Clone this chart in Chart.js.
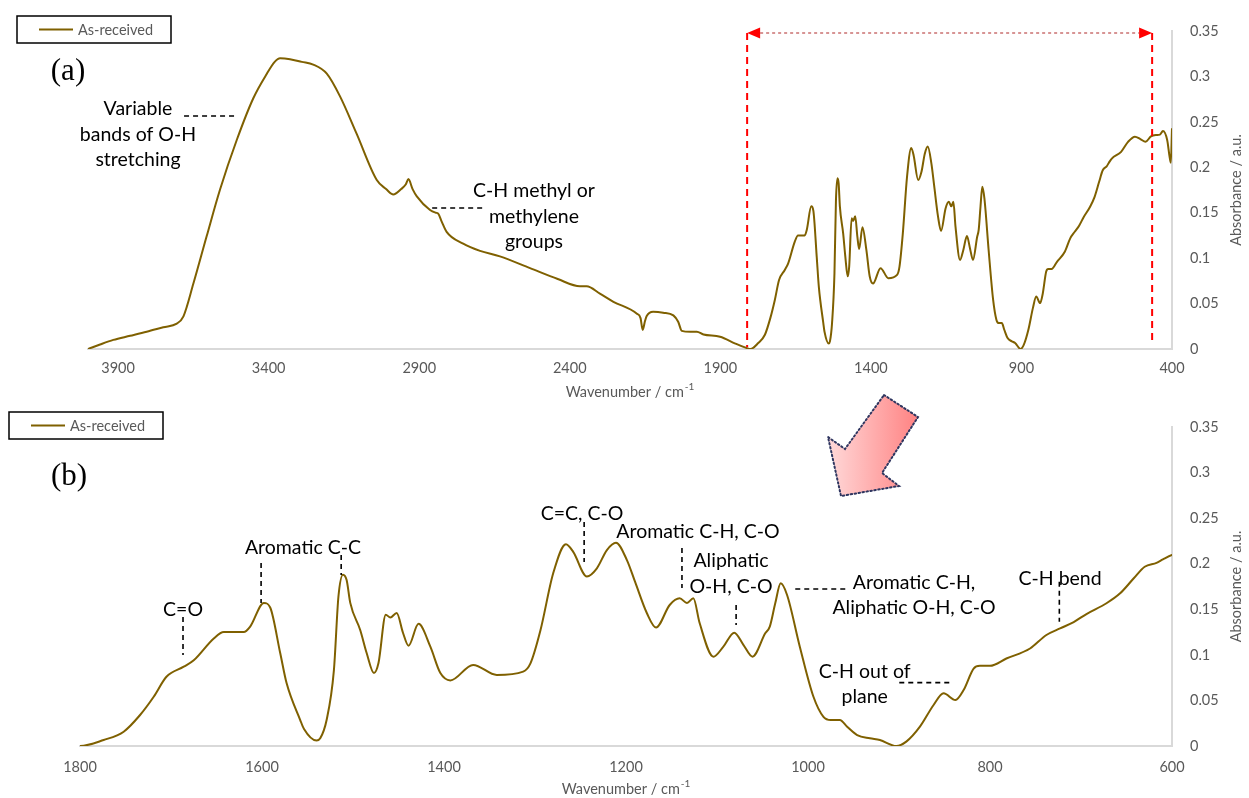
<!DOCTYPE html>
<html>
<head>
<meta charset="utf-8">
<title>FTIR spectrum – As-received</title>
<script src="https://cdn.jsdelivr.net/npm/chart.js@4.4.1/dist/chart.umd.min.js"></script>
<style>
  html, body { margin: 0; padding: 0; background: #ffffff; }
  body { width: 1249px; height: 798px; position: relative; overflow: hidden; }
  #specA { position: absolute; left: 0; top: 0; }
  #specB { position: absolute; left: 0; top: 380px; }
</style>
</head>
<body>
<canvas id="specA" width="1249" height="400"></canvas>
<canvas id="specB" width="1249" height="418"></canvas>
<script>
// ---- Spectrum (wavenumber in cm-1, absorbance in a.u.) ----
const wavenumber = [
  4000, 3960, 3916, 3860, 3805, 3750, 3705, 3683, 3650, 3606,
  3562, 3506, 3451, 3406, 3380, 3362, 3329, 3290, 3252, 3207,
  3163, 3108, 3041, 3010, 2986, 2960, 2945, 2936, 2922, 2908,
  2864, 2845, 2837, 2825, 2809, 2754, 2698, 2632, 2532, 2440,
  2366, 2344, 2300, 2255, 2178, 2165, 2158, 2150, 2145, 2123,
  2090, 2056, 2040, 2028, 2000, 1978, 1956, 1901, 1850, 1812,
  1800, 1774, 1752, 1734, 1719, 1705, 1686, 1675, 1653, 1642,
  1620, 1613, 1598, 1591, 1580, 1573, 1558, 1554, 1540, 1536,
  1529, 1521, 1516, 1511, 1507, 1503, 1492, 1485, 1477, 1472,
  1464, 1459, 1452, 1445, 1439, 1428, 1415, 1404, 1393, 1368,
  1342, 1313, 1305, 1294, 1280, 1266, 1258, 1243, 1232, 1221,
  1211, 1199, 1190, 1177, 1167, 1152, 1141, 1133, 1126, 1119,
  1104, 1093, 1081, 1071, 1061, 1047, 1042, 1036, 1030, 1023,
  1009, 994, 983, 975, 965, 957, 946, 932, 921, 903,
  892, 877, 862, 851, 838, 829, 818, 811, 800, 782,
  756, 738, 723, 708, 694, 672, 657, 642, 630, 617,
  610, 600, 569, 546, 523, 505, 488, 470, 453, 440,
  430, 416, 408, 404, 400
];
const absorbance = [
  0.000, 0.005, 0.010, 0.0145, 0.019, 0.024, 0.028, 0.036, 0.072, 0.124,
  0.175, 0.230, 0.276, 0.303, 0.316, 0.320, 0.319, 0.316, 0.313, 0.303,
  0.278, 0.237, 0.186, 0.176, 0.170, 0.176, 0.181, 0.187, 0.176, 0.168,
  0.153, 0.150, 0.149, 0.140, 0.129, 0.116, 0.108, 0.102, 0.089, 0.077,
  0.069, 0.069, 0.061, 0.052, 0.039, 0.034, 0.021, 0.031, 0.036, 0.041,
  0.040, 0.037, 0.030, 0.020, 0.019, 0.019, 0.016, 0.0135, 0.006, 0.001,
  0.000, 0.0066, 0.0157, 0.034, 0.054, 0.076, 0.087, 0.094, 0.118, 0.125,
  0.125, 0.131, 0.157, 0.152, 0.102, 0.069, 0.0285, 0.019, 0.006, 0.0084,
  0.0285, 0.083, 0.164, 0.188, 0.182, 0.157, 0.127, 0.102, 0.080, 0.091,
  0.144, 0.141, 0.146, 0.124, 0.110, 0.134, 0.109, 0.080, 0.072, 0.089,
  0.078, 0.0816, 0.0907, 0.127, 0.1895, 0.2213, 0.213, 0.186, 0.195, 0.215,
  0.223, 0.204, 0.180, 0.1456, 0.130, 0.1547, 0.162, 0.157, 0.162, 0.1346,
  0.098, 0.109, 0.1243, 0.111, 0.098, 0.1236, 0.131, 0.1566, 0.1785, 0.1657,
  0.109, 0.054, 0.032, 0.0285, 0.0285, 0.0212, 0.012, 0.0084, 0.0066, 0.000,
  0.0048, 0.0212, 0.045, 0.0578, 0.0505, 0.0614, 0.085, 0.088, 0.088, 0.096,
  0.107, 0.1218, 0.129, 0.136, 0.1448, 0.1566, 0.1675, 0.184, 0.1967, 0.201,
  0.2048, 0.2096, 0.217, 0.228, 0.2337, 0.231, 0.228, 0.234, 0.2355, 0.236,
  0.240, 0.230, 0.2116, 0.205, 0.243
];
const seriesLabel = 'As-received';

// ---- Axis ranges and ticks ----
const xRangeFull = [400, 4000];
const xRangeZoom = [600, 1800];
const xTicksFull = [3900, 3400, 2900, 2400, 1900, 1400, 900, 400];
const xTicksZoom = [1800, 1600, 1400, 1200, 1000, 800, 600];
const yTicks = [0, 0.05, 0.1, 0.15, 0.2, 0.25, 0.3, 0.35];
const yTickLabels = ['0', '0.05', '0.1', '0.15', '0.2', '0.25', '0.3', '0.35'];
const xTitle = ['Wavenumber / cm', '-1'];
const yTitle = 'Absorbance / a.u.';

// ---- Band assignments (anchored in wavenumber / absorbance units) ----
const bandNotesFull = [
  { lines: ['Variable', 'bands of O-H', 'stretching'], wn: 3834, v: 0.264 },
  { lines: ['C-H methyl or', 'methylene', 'groups'], wn: 2519, v: 0.1739 }
];
const leadersFull = [
  { from: [3681, 0.2564], to: [3508, 0.2564] },
  { from: [2857, 0.1552], to: [2685, 0.1552] }
];
const bandNotesZoom = [
  { lines: ['C=O'], wn: 1686.8, v: 0.1492 },
  { lines: ['Aromatic C-C'], wn: 1555, v: 0.2172 },
  { lines: ['C=C, C-O'], wn: 1248.4, v: 0.2546 },
  { lines: ['Aromatic C-H, C-O'], wn: 1120.9, v: 0.2348 },
  { lines: ['Aliphatic', 'O-H, C-O'], wn: 1084.6, v: 0.203 },
  { lines: ['Aromatic C-H,', 'Aliphatic O-H, C-O'], wn: 883.5, v: 0.1792 },
  { lines: ['C-H out of', 'plane'], wn: 937.7, v: 0.0815 },
  { lines: ['C-H bend'], wn: 723, v: 0.184 }
];
const leadersZoom = [
  { from: [1686.8, 0.1415], to: [1686.8, 0.0998] },
  { from: [1601, 0.2008], to: [1601, 0.1569] },
  { from: [1513, 0.2096], to: [1513, 0.1876] },
  { from: [1246, 0.2458], to: [1246, 0.2019] },
  { from: [1138.5, 0.2172], to: [1138.5, 0.1733] },
  { from: [1079, 0.1547], to: [1079, 0.1328] },
  { from: [1014, 0.1723], to: [958, 0.1723] },
  { from: [899.7, 0.0695], to: [843.2, 0.0695] },
  { from: [723.8, 0.1803], to: [723.8, 0.1364] }
];
// region of the full spectrum that is expanded in panel (b)
const zoomWindow = { left: 1811, right: 466, top: 0.3478, leftBottom: 0.002, rightBottom: 0.0044 };

const LINE_COLOR = '#7f6000';
const AXIS_GREY = '#595959';
const SANS = 'Lato, "Open Sans", "DejaVu Sans", sans-serif';
const SERIF = '"Liberation Serif", "Times New Roman", serif';

const points = wavenumber.map((w, i) => ({ x: w, y: absorbance[i] }));

// Draws axis titles, boxed legend, panel letter, band notes and extra graphics.
const decor = {
  id: 'decor',
  afterDraw(chart, _args, o) {
    const { ctx, chartArea: ca } = chart;
    const xs = chart.scales.x, ys = chart.scales.y;
    const X = v => xs.getPixelForValue(v);
    const Y = v => ys.getPixelForValue(v);
    ctx.save();

    // x-axis title with superscript
    ctx.fillStyle = AXIS_GREY;
    ctx.textBaseline = 'middle';
    ctx.textAlign = 'left';
    ctx.font = `14.5px ${SANS}`;
    const w1 = ctx.measureText(xTitle[0]).width;
    ctx.font = `10px ${SANS}`;
    const w2 = ctx.measureText(xTitle[1]).width;
    const sx = (ca.left + ca.right) / 2 - (w1 + w2 + 1) / 2;
    ctx.font = `14.5px ${SANS}`;
    ctx.fillText(xTitle[0], sx, o.xTitleY);
    ctx.font = `10px ${SANS}`;
    ctx.fillText(xTitle[1], sx + w1 + 1, o.xTitleY - 5);

    // y-axis title, reading bottom to top
    ctx.save();
    ctx.translate(o.yTitleX, (ca.top + ca.bottom) / 2);
    ctx.rotate(-Math.PI / 2);
    ctx.textAlign = 'center';
    ctx.font = `14.5px ${SANS}`;
    ctx.fillText(yTitle, 0, 0);
    ctx.restore();

    // boxed legend
    const lg = o.legendBox;
    const ds = chart.data.datasets[0];
    ctx.strokeStyle = '#000';
    ctx.lineWidth = 1.5;
    ctx.strokeRect(lg.x, lg.y, lg.w, lg.h);
    ctx.strokeStyle = ds.borderColor;
    ctx.lineWidth = 2;
    ctx.beginPath();
    ctx.moveTo(lg.x + 22, lg.y + lg.h / 2);
    ctx.lineTo(lg.x + 56, lg.y + lg.h / 2);
    ctx.stroke();
    ctx.fillStyle = AXIS_GREY;
    ctx.font = `14.5px ${SANS}`;
    ctx.textAlign = 'left';
    ctx.fillText(ds.label, lg.x + 61, lg.y + lg.h / 2 + 0.5);

    // panel letter
    ctx.fillStyle = '#000';
    ctx.font = `31px ${SERIF}`;
    ctx.textAlign = 'center';
    ctx.fillText(o.letter.text, o.letter.x, o.letter.y);

    // band notes
    ctx.font = `19.5px ${SANS}`;
    ctx.fillStyle = '#000';
    o.notes.forEach(n => {
      n.lines.forEach((t, i) => ctx.fillText(t, X(n.wn), Y(n.v) + i * 25.5));
    });
    ctx.strokeStyle = '#000';
    ctx.lineWidth = 1.6;
    ctx.setLineDash([5, 4]);
    o.leaders.forEach(l => {
      ctx.beginPath();
      ctx.moveTo(X(l.from[0]), Y(l.from[1]));
      ctx.lineTo(X(l.to[0]), Y(l.to[1]));
      ctx.stroke();
    });

    // expanded-region marker
    if (o.window) {
      const r = o.window;
      const xl = X(r.left), xr = X(r.right), yt = Y(r.top);
      ctx.strokeStyle = '#ff0000';
      ctx.lineWidth = 2;
      ctx.setLineDash([7, 5]);
      ctx.beginPath();
      ctx.moveTo(xl, yt); ctx.lineTo(xl, Y(r.leftBottom));
      ctx.moveTo(xr, yt); ctx.lineTo(xr, Y(r.rightBottom));
      ctx.stroke();
      ctx.lineWidth = 1;
      ctx.strokeStyle = '#b02a2a';
      ctx.setLineDash([3, 3]);
      ctx.beginPath();
      ctx.moveTo(xl + 13, yt); ctx.lineTo(xr - 13, yt);
      ctx.stroke();
      ctx.setLineDash([]);
      ctx.fillStyle = '#ff0000';
      ctx.beginPath();
      ctx.moveTo(xl, yt); ctx.lineTo(xl + 13, yt - 5.5); ctx.lineTo(xl + 13, yt + 5.5); ctx.closePath();
      ctx.moveTo(xr, yt); ctx.lineTo(xr - 13, yt - 5.5); ctx.lineTo(xr - 13, yt + 5.5); ctx.closePath();
      ctx.fill();
    }

    // block arrow pointing from panel (a) to panel (b)
    if (o.arrow) {
      const pts = o.arrow;
      ctx.setLineDash([]);
      ctx.beginPath();
      pts.forEach((p, i) => (i ? ctx.lineTo(p[0], p[1]) : ctx.moveTo(p[0], p[1])));
      ctx.closePath();
      const g = ctx.createLinearGradient(828, 0, 918, 0);
      g.addColorStop(0, '#ffd9d9');
      g.addColorStop(1, '#ff8282');
      ctx.fillStyle = g;
      ctx.fill();
      ctx.setLineDash([1.5, 2.5]);
      ctx.lineCap = 'round';
      ctx.lineWidth = 2;
      ctx.strokeStyle = '#2f3660';
      ctx.stroke();
    }
    ctx.restore();
  }
};

function spectrumChart(id, xRange, xTicks, padding, xAxisHeight, xTickPad, decorOpts) {
  return new Chart(document.getElementById(id), {
    type: 'line',
    data: {
      datasets: [{
        label: seriesLabel,
        data: points,
        borderColor: LINE_COLOR,
        borderWidth: 2,
        pointRadius: 0,
        fill: false,
        cubicInterpolationMode: 'monotone'
      }]
    },
    options: {
      responsive: false,
      animation: false,
      events: [],
      layout: { padding },
      plugins: {
        legend: { display: false },
        tooltip: { enabled: false },
        decor: decorOpts
      },
      scales: {
        x: {
          type: 'linear',
          reverse: true,
          min: xRange[0],
          max: xRange[1],
          afterBuildTicks: s => { s.ticks = xTicks.map(v => ({ value: v })); },
          afterFit: s => { s.height = xAxisHeight; },
          grid: { display: false, drawTicks: false },
          border: { display: true, color: '#d9d9d9', width: 2 },
          ticks: {
            padding: xTickPad, color: AXIS_GREY, autoSkip: false, maxRotation: 0,
            font: { family: SANS, size: 14.5 },
            callback: v => String(v)
          }
        },
        y: {
          position: 'right',
          min: 0,
          max: 0.35,
          afterBuildTicks: s => { s.ticks = yTicks.map(v => ({ value: v })); },
          afterFit: s => { s.width = 77; },
          grid: { display: false, drawTicks: false },
          border: { display: true, color: '#d9d9d9', width: 2 },
          ticks: {
            padding: 18, color: AXIS_GREY,
            font: { family: SANS, size: 14.5 },
            callback: v => yTickLabels[yTicks.indexOf(v)]
          }
        }
      }
    },
    plugins: [decor]
  });
}

spectrumChart('specA', xRangeFull, xTicksFull, { left: 88, top: 31, right: 0, bottom: 0 }, 51, 11, {
  xTitleY: 392, yTitleX: 1236,
  legendBox: { x: 17, y: 16, w: 154, h: 27 },
  letter: { text: '(a)', x: 68, y: 72 },
  notes: bandNotesFull,
  leaders: leadersFull,
  window: zoomWindow
});

spectrumChart('specB', xRangeZoom, xTicksZoom, { left: 80, top: 47, right: 0, bottom: 0 }, 52, 13, {
  xTitleY: 409, yTitleX: 1236,
  legendBox: { x: 9, y: 32, w: 154, h: 27 },
  letter: { text: '(b)', x: 69, y: 97 },
  notes: bandNotesZoom,
  leaders: leadersZoom,
  arrow: [[884, 15], [918, 37], [882, 93], [899, 106], [841, 116], [828, 57], [845, 69]]
});
</script>
</body>
</html>
